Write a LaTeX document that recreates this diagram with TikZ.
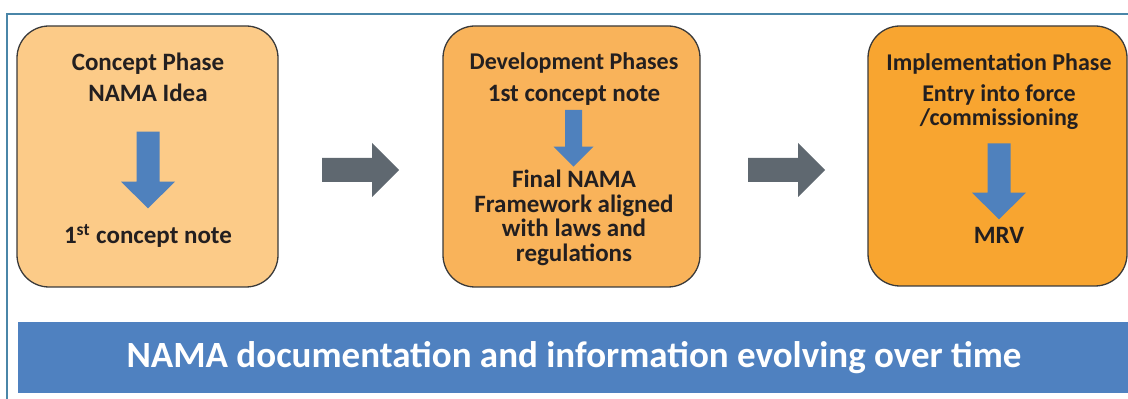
\documentclass[tikz,border=0pt]{standalone}
\usepackage{fontspec}
\setmainfont{Carlito}
\definecolor{frameblue}{HTML}{4A86A8}
\definecolor{boxline}{HTML}{3A3A3A}
\definecolor{cA}{HTML}{FCCB88}
\definecolor{cB}{HTML}{F9B35A}
\definecolor{cC}{HTML}{F8A530}
\definecolor{arrblue}{HTML}{4F81BD}
\definecolor{arrgray}{HTML}{5F6870}
\definecolor{barblue}{HTML}{4F81C0}
\definecolor{txt}{HTML}{231F20}
\newcommand\NamaDown[6]{% cx, top, headtop, tip, shaft half, head half
  \fill[arrblue] ({#1-#5},#2) -- ({#1+#5},#2) -- ({#1+#5},#3) -- ({#1+#6},#3)
     -- (#1,#4) -- ({#1-#6},#3) -- ({#1-#5},#3) -- cycle;}
\newcommand\NamaRight[5]{% left, shaftend, tip, cy, shaft half
  \fill[arrgray] (#1,{#4-#5}) -- (#2,{#4-#5}) -- (#2,{#4-27}) -- (#3,#4)
     -- (#2,{#4+27}) -- (#2,{#4+#5}) -- (#1,{#4+#5}) -- cycle;}
\begin{document}
\begin{tikzpicture}[x=0.5pt,y=-0.5pt,
  phase/.style={draw=boxline,line width=0.65pt,rounded corners=16pt},
  lbl/.style={font=\bfseries\fontsize{12.5}{15.5}\selectfont,text=txt,inner sep=0pt,align=center,anchor=base,
    execute at begin node={\lineskiplimit=-20pt}},
  small/.style={font=\bfseries\fontsize{12}{15.5}\selectfont},
  tight/.style={font=\bfseries\fontsize{12.5}{12.35}\selectfont},
  tighter/.style={font=\bfseries\fontsize{12}{11.8}\selectfont},
  bartext/.style={font=\bfseries\fontsize{18.5}{22}\selectfont,text=white,inner sep=0pt,anchor=base}]
\useasboundingbox (0,0) rectangle (1128,399);
% frame
\draw[frameblue,line width=0.75pt] (7,399) -- (7,14) -- (1128,14);
% phase boxes
\draw[phase,fill=cA] (17,26) rectangle (278,287);
\draw[phase,fill=cB] (443,26) rectangle (700,287);
\draw[phase,fill=cC] (868,26) rectangle (1127,286);
% box 1 (multi-line nodes are anchored at their last baseline)
\node[lbl] (t1) at (148,101.7) {Concept Phase\\NAMA Idea};
\NamaDown{148}{131.7}{181.7}{208.3}{11.5}{27}
\node[lbl] (n1) at (148,244) {1\textsuperscript{st} concept note};
% box 2
\node[lbl] (t2a) at (574,70) [small] {Development Phases};
\node[lbl] (t2b) at (574,101.7) {1st concept note};
\NamaDown{573.5}{110}{146.7}{166.7}{8.5}{20}
\node[lbl,tight] (n2) at (574,261.7) {Final NAMA\\Framework aligned\\with laws and\\regulations};
% box 3
\node[lbl,small] (t3) at (999,70.7) {Implementation Phase};
\node[lbl,tighter] (e3) at (999,125.3) {Entry into force\\/commissioning};
\NamaDown{999}{143.3}{192.7}{219.3}{11.5}{27}
\node[lbl] (n3) at (999,244) {MRV};
% phase arrows
\NamaRight{322}{372}{399}{170}{12}
\NamaRight{748}{798}{825}{170}{12}
% bottom bar
\fill[barblue] (18,322) rectangle (1128,393);
\node[bartext] (bar) at (574,367.3) {NAMA documentation and information evolving over time};
\end{tikzpicture}
\end{document}
